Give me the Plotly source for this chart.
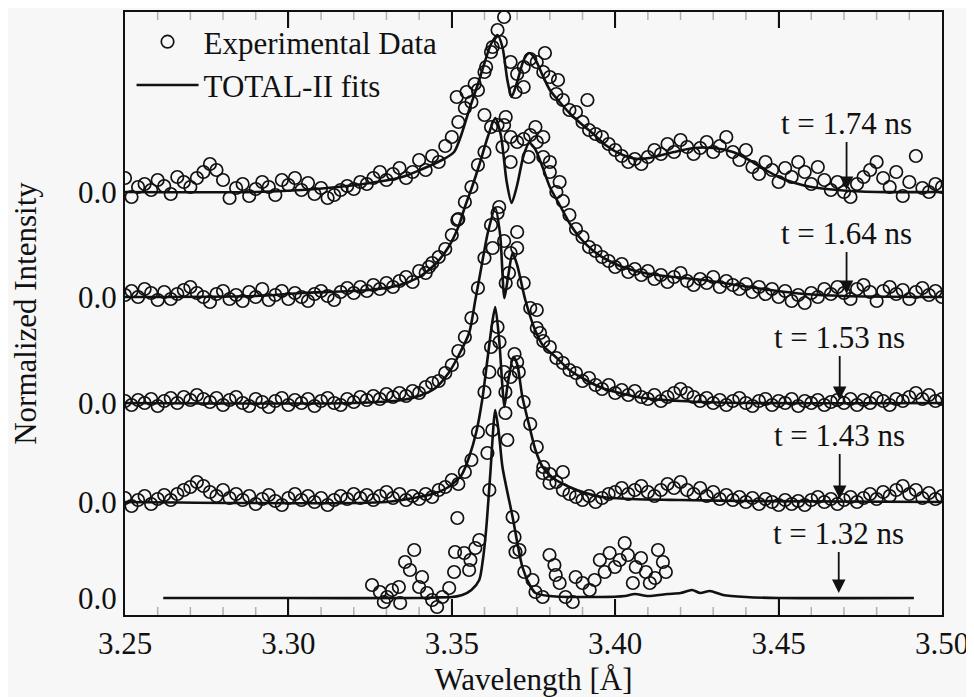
import numpy as np
import plotly.graph_objects as go

# ---------------- data (intensity units: 1.0 = one baseline spacing unit) -------------
wavelength_grid = np.round(3.25 + 0.002 * np.arange(126), 3)

times = ["1.74", "1.64", "1.53", "1.43", "1.32"]
offsets = [4.23, 3.18, 2.12, 1.13, 0.17]

data_174 = [0.14, -0.05, 0.05, 0.08, 0.02, 0.12, 0.06, -0.02, 0.15, 0.10,
            0.05, 0.14, 0.20, 0.28, 0.22, 0.12, -0.06, 0.04, 0.08, -0.04,
            0.03, 0.10, 0.05, -0.03, 0.12, 0.07, 0.14, 0.02, 0.09, -0.02,
            0.04, -0.06, -0.03, 0.02, 0.06, 0.03, 0.10, 0.08, 0.14, 0.20,
            0.12, 0.18, 0.24, 0.14, 0.20, 0.32, 0.22, 0.36, 0.30, 0.46,
            0.55, 0.70, 0.84, 0.90, 1.02, 1.20, 1.40, 1.62, 1.75, 1.30,
            1.18, 1.25, 1.33, 1.30, 1.20, 1.15, 0.98, 0.92, 0.82, 0.80,
            0.70, 0.62, 0.58, 0.55, 0.48, 0.42, 0.36, 0.30, 0.33, 0.28,
            0.35, 0.42, 0.38, 0.48, 0.40, 0.52, 0.45, 0.38, 0.44, 0.50,
            0.40, 0.46, 0.55, 0.40, 0.32, 0.42, 0.25, 0.18, 0.30, 0.22,
            0.10, 0.24, 0.15, 0.30, 0.20, 0.08, 0.25, 0.12, 0.02, 0.10,
            0.00, -0.05, 0.08, 0.15, 0.22, 0.30, 0.14, 0.05, 0.20, -0.04,
            0.10, 0.36, 0.04, 0.00, 0.08, 0.05]
extra_174_x = [3.3515, 3.3545, 3.357, 3.3605, 3.3625, 3.365, 3.3695, 3.372, 3.3785, 3.3825, 3.3915]
extra_174_y = [0.95, 1.00, 1.08, 1.25, 1.45, 1.50, 1.00, 1.05, 1.39, 1.12, 0.92]

data_164 = [0.02, 0.06, 0.00, 0.08, 0.04, -0.03, 0.05, -0.02, 0.03, 0.07,
            0.10, 0.04, 0.00, -0.05, 0.03, 0.06, -0.02, 0.02, -0.04, 0.05,
            0.00, 0.08, -0.03, 0.02, 0.06, -0.02, 0.04, 0.00, -0.04, 0.03,
            0.06, 0.01, -0.03, 0.05, 0.09, 0.04, 0.10, 0.06, 0.12, 0.08,
            0.14, 0.10, 0.16, 0.20, 0.15, 0.26, 0.24, 0.34, 0.40, 0.48,
            0.62, 0.78, 0.95, 1.10, 1.32, 1.45, 1.70, 1.72, 1.72, 1.60,
            1.55, 1.58, 1.62, 1.55, 1.40, 1.25, 1.05, 0.96, 0.82, 0.68,
            0.60, 0.50, 0.46, 0.40, 0.36, 0.30, 0.33, 0.25, 0.28, 0.22,
            0.26, 0.18, 0.22, 0.15, 0.20, 0.24, 0.16, 0.12, 0.18, 0.14,
            0.20, 0.10, 0.16, 0.12, 0.08, 0.13, 0.05, 0.10, 0.03, 0.08,
            0.00, 0.06, -0.04, 0.02, -0.06, 0.04, 0.00, 0.08, 0.03, 0.10,
            0.04, -0.02, 0.08, 0.12, 0.05, -0.04, 0.06, 0.10, 0.03, 0.07,
            -0.02, 0.05, 0.09, 0.02, 0.06, 0.00]
extra_164_x = [3.343, 3.3517, 3.360, 3.3655, 3.3665, 3.368, 3.3735, 3.3756, 3.378, 3.380, 3.383]
extra_164_y = [0.30, 0.77, 1.82, 1.50, 1.80, 1.35, 1.40, 1.70, 1.60, 1.35, 1.15]

data_153 = [0.02, -0.02, 0.03, 0.00, 0.04, -0.03, 0.02, 0.05, 0.00, 0.06,
            0.03, 0.08, 0.04, 0.01, 0.05, -0.02, 0.03, 0.06, 0.00, -0.03,
            0.04, 0.01, -0.04, 0.02, 0.05, -0.02, 0.03, 0.00, 0.04, -0.03,
            0.02, 0.05, 0.00, -0.02, 0.04, 0.01, 0.06, 0.03, 0.07, 0.04,
            0.09, 0.06, 0.10, 0.07, 0.12, 0.10, 0.16, 0.20, 0.22, 0.30,
            0.38, 0.52, 0.66, 0.85, 1.15, 1.45, 1.78, 1.90, 1.62, 1.50,
            1.55, 1.20, 0.95, 0.75, 0.62, 0.56, 0.45, 0.40, 0.33, 0.30,
            0.22, 0.25, 0.18, 0.14, 0.18, 0.10, 0.13, 0.08, 0.12, 0.06,
            0.04, 0.08, 0.02, 0.06, 0.10, 0.14, 0.10, 0.06, 0.02, 0.05,
            0.00, 0.03, -0.02, 0.02, 0.05, 0.00, -0.03, 0.02, 0.04, -0.02,
            0.02, 0.00, 0.04, -0.03, 0.02, 0.00, 0.03, -0.02, 0.01, 0.03,
            0.00, 0.04, -0.02, 0.03, 0.00, 0.05, 0.02, -0.02, 0.04, 0.02,
            0.06, 0.10, 0.04, 0.08, 0.02, 0.04]
extra_153_x = [3.3625, 3.3645, 3.3665, 3.3675, 3.370, 3.376, 3.377]
extra_153_y = [1.55, 1.96, 1.20, 1.30, 1.71, 0.93, 0.70]

data_143 = [0.04, -0.04, 0.02, 0.06, -0.02, 0.03, 0.07, 0.02, 0.08, 0.12,
            0.15, 0.20, 0.16, 0.10, 0.06, 0.12, 0.04, 0.08, 0.02, 0.06,
            -0.02, 0.03, 0.07, 0.01, -0.03, 0.04, 0.08, 0.02, 0.06, 0.00,
            0.04, -0.03, 0.02, 0.06, 0.03, 0.08, 0.04, 0.07, 0.02, 0.06,
            0.10, 0.04, 0.08, 0.02, 0.06, 0.03, 0.08, 0.05, 0.12, 0.15,
            0.22, 0.18, 0.30, 0.42, 0.70, 1.10, 1.55, 1.75, 1.30, 1.25,
            1.40, 1.00, 0.78, 0.55, 0.35, 0.28, 0.20, 0.12, 0.08, 0.05,
            0.02, 0.06, 0.00, 0.04, 0.08, 0.10, 0.14, 0.08, 0.12, 0.16,
            0.10, 0.06, 0.12, 0.18, 0.14, 0.20, 0.12, 0.08, 0.14, 0.06,
            0.10, 0.03, 0.07, 0.02, 0.05, 0.00, 0.04, -0.02, 0.03, 0.00,
            -0.03, 0.02, -0.02, 0.01, -0.03, 0.02, 0.05, 0.00, 0.03, -0.02,
            0.02, 0.05, 0.00, 0.04, 0.08, 0.03, 0.10, 0.06, 0.12, 0.16,
            0.08, 0.12, 0.04, 0.09, 0.03, 0.06]
extra_143_x = [3.3615, 3.3646, 3.3664, 3.3692, 3.3705, 3.3778, 3.3799, 3.384]
extra_143_y = [1.30, 1.60, 1.10, 1.48, 1.30, 0.29, 0.19, 0.30]

data_132_x = [3.3256, 3.3280, 3.3292, 3.3302, 3.3317, 3.3338, 3.3342, 3.3357, 3.3372, 3.3385,
              3.3400, 3.3409, 3.3424, 3.3440, 3.3455, 3.3471, 3.3492, 3.3507, 3.3510, 3.3517,
              3.3538, 3.3553, 3.3557, 3.3572, 3.3584, 3.3609, 3.3615, 3.3624, 3.3664, 3.3670,
              3.3686, 3.3692, 3.3695, 3.3707, 3.3722, 3.3747, 3.3756, 3.3778, 3.3799, 3.3814,
              3.3818, 3.3830, 3.3848, 3.3870, 3.3879, 3.3900, 3.3922, 3.3937, 3.3953, 3.3968,
              3.3983, 3.3999, 3.4014, 3.4029, 3.4039, 3.4054, 3.4063, 3.4079, 3.4094, 3.4106,
              3.4122, 3.4131, 3.4146, 3.4155]
data_132_y = [0.13, 0.06, -0.04, 0.01, 0.08, 0.11, -0.05, 0.36, 0.28, 0.48,
              0.11, 0.21, 0.05, -0.02, -0.09, 0.01, 0.10, 0.26, 0.46, 0.80,
              0.45, 0.28, 0.38, 0.50, 0.58, 1.45, 1.08, 1.68, 1.85, 1.58,
              0.81, 0.61, 0.46, 0.48, 0.26, 0.18, 0.06, 0.01, 0.43, 0.33,
              0.23, 0.15, 0.01, -0.04, 0.21, 0.15, 0.08, 0.18, 0.38, 0.26,
              0.45, 0.31, 0.38, 0.55, 0.43, 0.15, 0.31, 0.40, 0.26, 0.15,
              0.20, 0.48, 0.36, 0.26]

fit_174_x = [3.250, 3.290, 3.304, 3.315, 3.325, 3.3348, 3.341, 3.347, 3.3507, 3.353, 3.3553,
             3.358, 3.360, 3.362, 3.364, 3.3655, 3.367, 3.3683, 3.370, 3.372, 3.3737, 3.3755,
             3.378, 3.380, 3.383, 3.386, 3.390, 3.393, 3.397, 3.4023, 3.407, 3.412, 3.418,
             3.424, 3.430, 3.436, 3.441, 3.445, 3.450, 3.455, 3.460, 3.468, 3.480, 3.500]
fit_174_y = [0.00, 0.00, 0.02, 0.05, 0.09, 0.15, 0.23, 0.32, 0.40, 0.58, 0.82,
             1.08, 1.29, 1.48, 1.57, 1.45, 1.12, 0.95, 1.10, 1.32, 1.39, 1.33,
             1.15, 1.02, 0.90, 0.79, 0.67, 0.59, 0.47, 0.37, 0.33, 0.35, 0.40,
             0.44, 0.44, 0.40, 0.32, 0.24, 0.15, 0.09, 0.05, 0.02, 0.00, 0.00]

fit_164_x = [3.250, 3.290, 3.304, 3.3246, 3.334, 3.340, 3.345, 3.349, 3.352, 3.354, 3.3562,
             3.3584, 3.361, 3.3633, 3.365, 3.3668, 3.3683, 3.370, 3.372, 3.3737, 3.3755, 3.378,
             3.380, 3.383, 3.386, 3.389, 3.393, 3.397, 3.4023, 3.4076, 3.415, 3.427, 3.437,
             3.4475, 3.458, 3.470, 3.500]
fit_164_y = [0.00, 0.01, 0.04, 0.07, 0.12, 0.20, 0.33, 0.50, 0.70, 0.90, 1.10,
             1.32, 1.60, 1.79, 1.62, 1.15, 0.94, 1.12, 1.42, 1.54, 1.48, 1.28,
             1.10, 0.92, 0.74, 0.60, 0.47, 0.38, 0.30, 0.25, 0.21, 0.17, 0.12,
             0.07, 0.03, 0.01, 0.00]

fit_153_x = [3.250, 3.320, 3.3348, 3.340, 3.345, 3.349, 3.352, 3.3553, 3.3572, 3.359, 3.361,
             3.3633, 3.3648, 3.3661, 3.3673, 3.3686, 3.370, 3.3725, 3.3756, 3.378, 3.3818,
             3.386, 3.391, 3.396, 3.4014, 3.4085, 3.420, 3.440, 3.500]
fit_153_y = [0.00, 0.00, 0.03, 0.07, 0.15, 0.30, 0.47, 0.70, 1.03, 1.35, 1.70,
             1.95, 1.68, 1.05, 1.28, 1.50, 1.38, 1.03, 0.72, 0.57, 0.46,
             0.33, 0.23, 0.15, 0.10, 0.05, 0.02, 0.00, 0.00]

fit_143_x = [3.250, 3.330, 3.340, 3.345, 3.349, 3.353, 3.3553, 3.3575, 3.3593, 3.361, 3.3624,
             3.3633, 3.3645, 3.3655, 3.3661, 3.3672, 3.3689, 3.370, 3.3716, 3.3738, 3.3756,
             3.3778, 3.381, 3.386, 3.391, 3.396, 3.405, 3.420, 3.440, 3.500]
fit_143_y = [0.00, 0.00, 0.05, 0.09, 0.15, 0.27, 0.45, 0.70, 1.02, 1.45, 1.80,
             1.95, 1.62, 1.15, 0.95, 1.20, 1.45, 1.38, 1.05, 0.75, 0.52,
             0.35, 0.24, 0.15, 0.09, 0.05, 0.03, 0.02, 0.01, 0.00]

fit_132_x = [3.2617, 3.300, 3.340, 3.345, 3.350, 3.3532, 3.356, 3.3584, 3.3595, 3.3605, 3.3618,
             3.3633, 3.3645, 3.3655, 3.3686, 3.3716, 3.3740, 3.3756, 3.380, 3.395, 3.403,
             3.406, 3.410, 3.416, 3.420, 3.4235, 3.426, 3.429, 3.433, 3.440, 3.450, 3.4914]
fit_132_y = [0.00, 0.00, 0.00, 0.005, 0.01, 0.03, 0.08, 0.18, 0.38, 0.68, 1.25,
             1.88, 1.62, 1.31, 0.81, 0.31, 0.12, 0.05, 0.02, 0.01, 0.02,
             0.04, 0.02, 0.04, 0.05, 0.08, 0.05, 0.07, 0.03, 0.01, 0.00, 0.00]

x_tick_vals = [3.25, 3.30, 3.35, 3.40, 3.45, 3.50]
x_tick_text = ["3.25", "3.30", "3.35", "3.40", "3.45", "3.50"]
x_minor_vals = [round(3.25 + 0.01 * i, 2) for i in range(1, 25) if i % 5 != 0]

# ---------------- assemble ----------------
data_sets = [
    (list(wavelength_grid) + extra_174_x, data_174 + extra_174_y, fit_174_x, fit_174_y),
    (list(wavelength_grid) + extra_164_x, data_164 + extra_164_y, fit_164_x, fit_164_y),
    (list(wavelength_grid) + extra_153_x, data_153 + extra_153_y, fit_153_x, fit_153_y),
    (list(wavelength_grid) + extra_143_x, data_143 + extra_143_y, fit_143_x, fit_143_y),
    (data_132_x, data_132_y, fit_132_x, fit_132_y),
]

FONT = "Liberation Serif"
FS = 31
INK = "#111111"
BG = "#f7f7f7"

fig = go.Figure()
for k, (dx, dy, fx, fy) in enumerate(data_sets):
    off = offsets[k]
    fig.add_trace(go.Scatter(
        x=fx, y=[v + off for v in fy], mode="lines",
        line=dict(color=INK, width=2.6, shape="spline", smoothing=0.7),
        name="TOTAL-II fits", showlegend=(k == 0), legendrank=2, hoverinfo="skip"))
    fig.add_trace(go.Scatter(
        x=dx, y=[v + off for v in dy], mode="markers",
        marker=dict(symbol="circle-open", size=12.5, color=INK, line=dict(width=1.7, color=INK)),
        name="Experimental Data", showlegend=(k == 0), legendrank=1, hoverinfo="skip"))

label_pos = [  # (arrow x, arrow tip y, text y)
    (3.4708, 4.25, 4.92),
    (3.4708, 3.21, 3.82),
    (3.4687, 2.15, 2.78),
    (3.4687, 1.16, 1.80),
    (3.4684, 0.22, 0.82),
]
for t, (ax_, tip, ty) in zip(times, label_pos):
    fig.add_annotation(
        x=ax_, y=tip, ax=ax_, ay=ty, axref="x", ayref="y", xref="x", yref="y",
        text=f"t = {t} ns", showarrow=True, arrowhead=2, arrowsize=1.5,
        arrowwidth=1.8, arrowcolor=INK, standoff=0,
        font=dict(family=FONT, size=FS, color=INK))

# inward tick marks on the bottom and top frame, placed at the axis tick values
for v, ln, w in ([(v, 16, 2) for v in x_tick_vals[1:-1]] + [(v, 8, 1.5) for v in x_minor_vals]):
    for anchor, sgn in ((0, 1), (1, -1)):
        fig.add_shape(type="line", xref="x", yref="paper", x0=v, x1=v,
                      ysizemode="pixel", yanchor=anchor, y0=0, y1=sgn * ln,
                      line=dict(color=INK, width=w), layer="above")

# the page body has an 8px margin; the figure is sized/margined to compensate
fig.update_layout(
    template="simple_white",
    width=966, height=689,
    margin=dict(l=117, r=32, t=4, b=82, autoexpand=False),
    paper_bgcolor=BG, plot_bgcolor=BG,
    font=dict(family=FONT, size=FS, color=INK),
    legend=dict(x=0.008, y=0.995, xanchor="left", yanchor="top",
                bgcolor="rgba(0,0,0,0)", font=dict(family=FONT, size=FS, color=INK),
                itemwidth=62, tracegroupgap=0),
    showlegend=True,
)
fig.update_xaxes(
    range=[3.25, 3.50], tickmode="array", tickvals=x_tick_vals, ticktext=x_tick_text,
    showline=True, linecolor=INK, linewidth=2, mirror="allticks", automargin=False,
    ticks="inside", ticklen=16, tickwidth=2, tickcolor=INK,
    showgrid=False, zeroline=False,
    title=dict(text="Wavelength [Å]", font=dict(family=FONT, size=FS, color=INK), standoff=16),
    tickfont=dict(family=FONT, size=FS, color=INK),
)
fig.update_yaxes(
    range=[0, 6.03], tickvals=offsets, ticktext=["0.0"] * len(offsets),
    showline=True, linecolor=INK, linewidth=2, mirror=True, automargin=False,
    ticks="", showgrid=False, zeroline=False, ticklabelstandoff=0,
    title=dict(text="Normalized Intensity", font=dict(family=FONT, size=FS, color=INK), standoff=34),
    tickfont=dict(family=FONT, size=FS, color=INK),
)

fig.write_html("out.html")
